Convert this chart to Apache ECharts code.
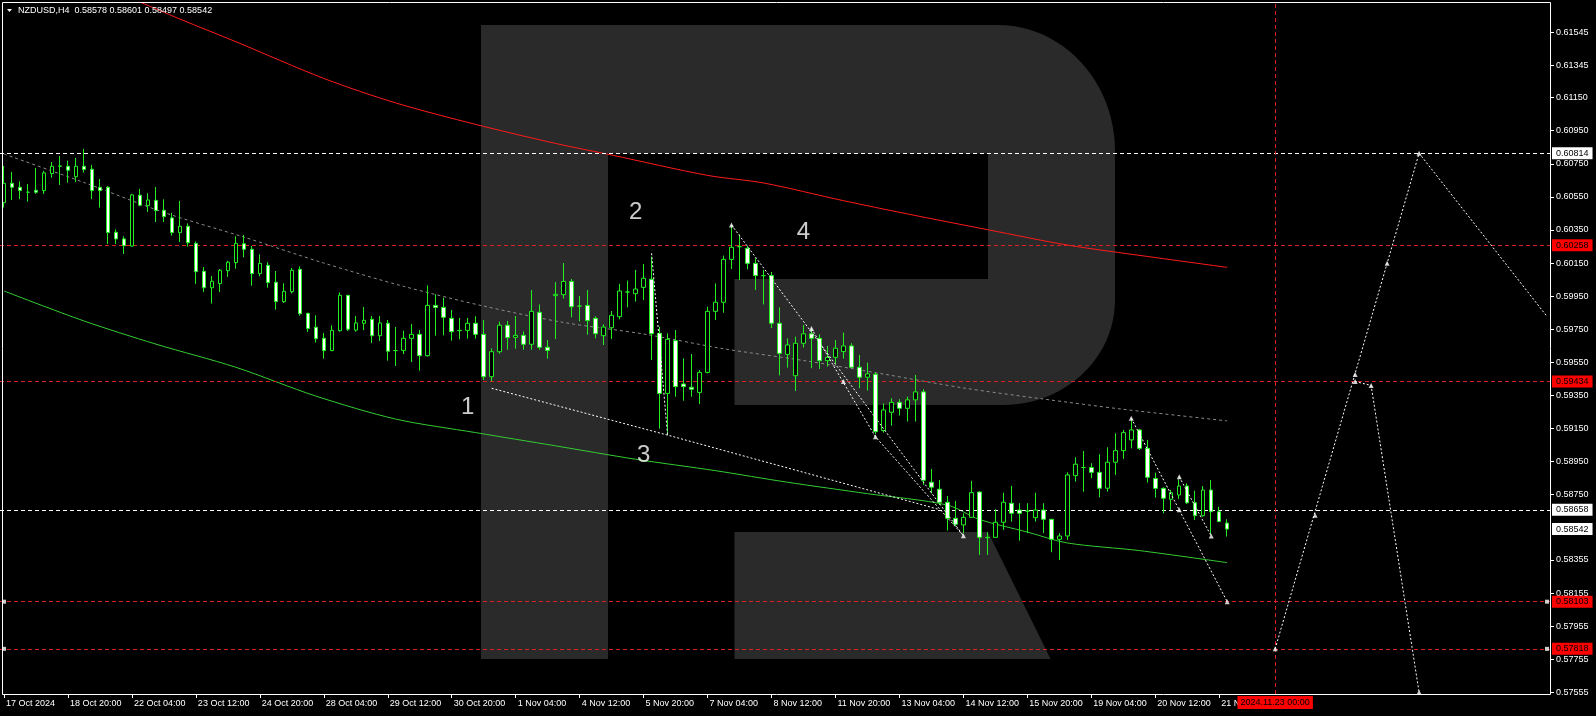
<!DOCTYPE html>
<html><head><meta charset="utf-8">
<script src="https://cdn.jsdelivr.net/npm/echarts@6/dist/echarts.min.js"></script>
<style>html,body{margin:0;padding:0;background:#000;}#c{width:1596px;height:716px;}</style>
</head><body><div id="c"></div>
<script>
// ---------- data ----------
const symbolTitle = 'NZDUSD,H4';
const headerOHLC = [0.58578, 0.58601, 0.58497, 0.58542];
const timeLabels = ['17 Oct 2024','18 Oct 20:00','22 Oct 04:00','23 Oct 12:00','24 Oct 20:00','28 Oct 04:00','29 Oct 12:00','30 Oct 20:00','1 Nov 04:00','4 Nov 12:00','5 Nov 20:00','7 Nov 04:00','8 Nov 12:00','11 Nov 20:00','13 Nov 04:00','14 Nov 12:00','15 Nov 20:00','19 Nov 04:00','20 Nov 12:00','21 Nov 20:00'];
const labelEvery = 8;
const futureBars = 40;
const priceTicks = [0.61545,0.61345,0.61150,0.60950,0.60750,0.60550,0.60350,0.60150,0.59950,0.59750,0.59550,0.59350,0.59150,0.58950,0.58750,0.58355,0.58155,0.57955,0.57755,0.57555];
const yMin = 0.57545, yMax = 0.61728;
// [open, close, low, high]
const candles = [
[0.60515,0.60632,0.60485,0.60737],[0.60632,0.60608,0.60531,0.60701],[0.60608,0.60588,0.60537,0.60644],[0.60578,0.60578,0.60521,0.60628],
[0.60590,0.60578,0.60568,0.60725],[0.60588,0.60695,0.60568,0.60707],[0.60691,0.60735,0.60666,0.60761],[0.60735,0.60737,0.60622,0.60797],
[0.60735,0.60711,0.60636,0.60769],[0.60672,0.60735,0.60640,0.60785],[0.60735,0.60715,0.60697,0.60840],[0.60717,0.60588,0.60537,0.60743],
[0.60608,0.60588,0.60485,0.60658],[0.60608,0.60334,0.60265,0.60616],[0.60336,0.60296,0.60265,0.60354],[0.60296,0.60255,0.60205,0.60312],
[0.60253,0.60562,0.60249,0.60568],[0.60560,0.60499,0.60493,0.60598],[0.60497,0.60531,0.60459,0.60572],[0.60529,0.60467,0.60398,0.60610],
[0.60469,0.60431,0.60398,0.60535],[0.60423,0.60334,0.60316,0.60453],[0.60334,0.60372,0.60277,0.60525],[0.60372,0.60273,0.60249,0.60390],
[0.60269,0.60098,0.60024,0.60281],[0.60100,0.60001,0.59975,0.60126],[0.60001,0.60040,0.59905,0.60072],[0.60026,0.60106,0.59975,0.60114],
[0.60104,0.60155,0.60066,0.60163],[0.60153,0.60269,0.60116,0.60312],[0.60267,0.60233,0.60185,0.60320],[0.60233,0.60086,0.60013,0.60253],
[0.60086,0.60148,0.60070,0.60203],[0.60136,0.60032,0.60001,0.60155],[0.60034,0.59917,0.59868,0.60102],[0.59917,0.59979,0.59909,0.60028],
[0.59977,0.60106,0.59967,0.60120],[0.60112,0.59844,0.59832,0.60130],[0.59846,0.59754,0.59733,0.59850],[0.59762,0.59693,0.59669,0.59834],
[0.59695,0.59621,0.59572,0.59727],[0.59621,0.59743,0.59617,0.59774],[0.59741,0.59955,0.59735,0.59973],[0.59955,0.59750,0.59739,0.59957],
[0.59745,0.59788,0.59735,0.59830],[0.59786,0.59804,0.59745,0.59885],[0.59810,0.59711,0.59667,0.59830],[0.59711,0.59788,0.59679,0.59830],
[0.59786,0.59617,0.59560,0.59806],[0.59621,0.59621,0.59528,0.59764],
[0.59622,0.59695,0.59600,0.59741],[0.59695,0.59719,0.59552,0.59782],[0.59719,0.59590,0.59499,0.59745],[0.59590,0.59894,0.59584,0.60015],
[0.59894,0.59882,0.59711,0.59961],[0.59882,0.59822,0.59713,0.59941],[0.59816,0.59735,0.59681,0.59866],[0.59741,0.59743,0.59689,0.59818],
[0.59743,0.59786,0.59693,0.59818],[0.59786,0.59719,0.59693,0.59828],[0.59719,0.59463,0.59443,0.59806],[0.59463,0.59614,0.59435,0.59634],
[0.59614,0.59774,0.59602,0.59796],[0.59774,0.59699,0.59626,0.59800],[0.59701,0.59713,0.59632,0.59830],[0.59713,0.59659,0.59626,0.59737],
[0.59659,0.59858,0.59626,0.59987],[0.59852,0.59641,0.59626,0.59900],[0.59641,0.59622,0.59572,0.59685],[0.59953,0.59961,0.59691,0.60035],
[0.59959,0.60039,0.59935,0.60150],[0.60039,0.59886,0.59822,0.60054],[0.59890,0.59890,0.59798,0.59951],[0.59894,0.59802,0.59717,0.59987],
[0.59816,0.59723,0.59695,0.59828],[0.59711,0.59763,0.59655,0.59780],[0.59759,0.59834,0.59691,0.59860],[0.59826,0.59981,0.59810,0.60025],
[0.59975,0.59975,0.59882,0.60044],[0.59965,0.59993,0.59917,0.60108],[0.60003,0.60058,0.59927,0.60144],[0.60052,0.59723,0.59564,0.60189],
[0.59725,0.59362,0.59149,0.59765],[0.59362,0.59689,0.59110,0.59725],[0.59681,0.59403,0.59342,0.59745],[0.59419,0.59403,0.59318,0.59574],
[0.59399,0.59387,0.59342,0.59600],[0.59368,0.59489,0.59298,0.59503],[0.59489,0.59858,0.59483,0.59886],[0.59858,0.59913,0.59806,0.60027],
[0.59913,0.60172,0.59850,0.60195],[0.60172,0.60245,0.60114,0.60380],[0.60249,0.60249,0.60048,0.60324],[0.60239,0.60148,0.60112,0.60253],
[0.60148,0.60074,0.59987,0.60179],[0.60074,0.60074,0.59900,0.60108],[0.60074,0.59786,0.59757,0.60096],[0.59786,0.59604,0.59471,0.59882],
[0.59598,0.59655,0.59518,0.59695],[0.59469,0.59665,0.59377,0.59705],
[0.59665,0.59722,0.59639,0.59776],[0.59722,0.59695,0.59514,0.59750],[0.59695,0.59560,0.59510,0.59719],[0.59560,0.59580,0.59524,0.59649],
[0.59580,0.59635,0.59540,0.59685],[0.59615,0.59649,0.59572,0.59730],[0.59649,0.59520,0.59514,0.59665],[0.59520,0.59460,0.59393,0.59595],
[0.59460,0.59480,0.59379,0.59548],[0.59478,0.59131,0.59117,0.59488],[0.59137,0.59262,0.59125,0.59302],[0.59248,0.59308,0.59167,0.59333],
[0.59308,0.59272,0.59228,0.59327],[0.59272,0.59323,0.59192,0.59343],[0.59323,0.59371,0.59192,0.59474],[0.59371,0.58837,0.58809,0.59387],
[0.58825,0.58795,0.58758,0.58905],[0.58783,0.58704,0.58688,0.58839],[0.58704,0.58607,0.58533,0.58742],[0.58607,0.58571,0.58561,0.58712],
[0.58567,0.58613,0.58517,0.58637],[0.58613,0.58762,0.58613,0.58833],[0.58766,0.58492,0.58386,0.58770],[0.58490,0.58492,0.58386,0.58523],
[0.58492,0.58583,0.58492,0.58662],[0.58583,0.58704,0.58537,0.58762],[0.58698,0.58637,0.58587,0.58803],[0.58657,0.58637,0.58472,0.58698],
[0.58650,0.58650,0.58517,0.58698],[0.58611,0.58657,0.58587,0.58762],[0.58657,0.58601,0.58517,0.58698],[0.58601,0.58480,0.58402,0.58601],
[0.58480,0.58500,0.58355,0.58517],[0.58500,0.58869,0.58476,0.58885],[0.58865,0.58934,0.58829,0.58976],[0.58914,0.58914,0.58768,0.59014],
[0.58914,0.58885,0.58849,0.58940],[0.58885,0.58789,0.58734,0.58994],[0.58789,0.58946,0.58768,0.59036],[0.58946,0.59016,0.58869,0.59121],
[0.59016,0.59125,0.58966,0.59141],[0.59081,0.59141,0.59030,0.59212],[0.59141,0.59030,0.59020,0.59147],[0.59030,0.58855,0.58823,0.59081],
[0.58848,0.58788,0.58732,0.58883],[0.58788,0.58728,0.58637,0.58794],[0.58722,0.58762,0.58657,0.58778],[0.58748,0.58802,0.58724,0.58842],
[0.58802,0.58701,0.58693,0.58818],[0.58701,0.58623,0.58597,0.58774],[0.58623,0.58778,0.58617,0.58802],[0.58778,0.58647,0.58510,0.58838],
[0.58647,0.58587,0.58587,0.58677],[0.58578,0.58542,0.58497,0.58601]
];
// moving averages read at selected bars: [barIndex, price]
const redMA = [[17,0.61728],[22,0.61625],[29,0.61488],[40,0.61266],[49,0.61118],[59,0.60988],[69,0.60873],[76,0.60803],[88,0.60680],[95,0.60634],[105,0.60527],[113,0.60447],[123,0.60352],[133,0.60259],[143,0.60190],[153,0.60124]];
const greenMA = [[0,0.59981],[10,0.59800],[19,0.59660],[29,0.59520],[39,0.59346],[49,0.59207],[59,0.59125],[69,0.59045],[79,0.58964],[89,0.58895],[98,0.58825],[108,0.58756],[118,0.58687],[122,0.58600],[128,0.58524],[133,0.58458],[142,0.58412],[153,0.58339]];
const greyMA = [[0,0.60809],[10,0.60637],[20,0.60456],[30,0.60307],[40,0.60150],[50,0.60009],[60,0.59890],[70,0.59791],[80,0.59721],[90,0.59632],[100,0.59561],[110,0.59479],[120,0.59395],[130,0.59328],[140,0.59266],[153,0.59196]];
// forecast / wave lines
const fcPaths = [
  [[61,0.59393],[83,0.59110],[117,0.58660]],
  [[81,0.60209],[83,0.59110]],
  [[91,0.60380],[120,0.58502]],
  [[101,0.59755],[109,0.59100],[120,0.58502]],
  [[141,0.59212],[153,0.58103]],
  [[147,0.58858],[151,0.58500]],
  [[159,0.57818],[177,0.60814],[193,0.59827]],
  [[169,0.59434],[171,0.59410],[177,0.57555]]
];
const fcMarkers = [[91,0.60380],[101,0.59755],[105,0.59434],[109,0.59100],[120,0.58502],[141,0.59212],[147,0.58858],[147,0.58658],[151,0.58500],[153,0.58103],[159,0.57818],[164,0.58626],[169,0.59476],[169,0.59434],[171,0.59410],[173,0.60149],[177,0.60814],[177,0.57555]];
const anchorPoints = [[0,0.58103],[0,0.57818],[193,0.58103],[193,0.57818]];
const waveNames = ['1','2','3','4'];
const waveBars = [58,79,80,100];
const wavePrices = [0.59277,0.60454,0.58987,0.60338];
const levelsWhite = [0.60814, 0.58658];
const levelsRed = [0.60258, 0.59434, 0.58103, 0.57818];
const lastPrice = 0.58542;
const forecastBar = 159;
const forecastDate = '2024.11.23 00:00';

// ---------- chart ----------
const FONT = "'Liberation Sans', Arial, sans-serif";
const GREEN = '#22ee22';
const RED = '#dd2020';
const WM = '#2a2a2a';
const categories = Array.from({length: candles.length + futureBars}, (_, i) => String(i));
const isLabelSlot = (i) => i % labelEvery === 0 && i / labelEvery < timeLabels.length;

function quarter(cx, cy, rx, ry, a0, a1, n) {
  const pts = [];
  for (let k = 0; k <= n; k++) {
    const a = a0 + (a1 - a0) * k / n;
    pts.push([cx + rx * Math.cos(a), cy + ry * Math.sin(a)]);
  }
  return pts;
}
const bowl = [[607,25],[998,25]]
  .concat(quarter(998,151,117,126,-Math.PI/2,0,24))
  .concat([[1115,300]])
  .concat(quarter(1003,300,112,105,0,Math.PI/2,24))
  .concat([[734.5,405],[734.5,279],[988,279],[988,153.6],[607,153.6]]);

const boxLabel = (txt, bg) => ({
  show: true, position: 'end', distance: 1, formatter: txt,
  backgroundColor: bg, color: '#000', fontSize: 9, fontFamily: FONT,
  lineHeight: 10, padding: [1, 4, 1, 4]
});
const markData = [];
levelsWhite.forEach(v => markData.push({yAxis: v, lineStyle: {color: '#ffffff', type: [4,3], width: 1}, label: boxLabel(v.toFixed(5), '#ffffff')}));
levelsRed.forEach(v => markData.push({yAxis: v, lineStyle: {color: RED, type: [4,3], width: 1}, label: boxLabel(v.toFixed(5), '#ff0000')}));
markData.push({yAxis: lastPrice, lineStyle: {color: 'rgba(0,0,0,0)', width: 0}, label: boxLabel(lastPrice.toFixed(5), '#ffffff')});
markData.push({xAxis: forecastBar, lineStyle: {color: RED, type: [4,3], width: 1},
  label: {show: true, position: 'start', distance: 2, formatter: forecastDate, backgroundColor: '#ff0000', color: '#000', fontSize: 9, fontFamily: FONT, lineHeight: 11, padding: [1, 3, 1, 3]}});

const series = [{
  type: 'candlestick', name: symbolTitle, data: candles, barWidth: 4, z: 5,
  itemStyle: {color: '#000000', color0: '#ffffff', borderColor: GREEN, borderColor0: GREEN, borderWidth: 1}
}, {
  type: 'line', data: redMA, symbol: 'none', smooth: 0.3, lineStyle: {color: '#ff1a1a', width: 1}, z: 3, silent: true
}, {
  type: 'line', data: greenMA, symbol: 'none', smooth: 0.3, lineStyle: {color: '#33cc33', width: 1}, z: 3, silent: true
}, {
  type: 'line', data: greyMA, symbol: 'none', smooth: 0.3, lineStyle: {color: '#8a8a8a', width: 1, type: [3,3]}, z: 3, silent: true,
  markLine: {symbol: ['none','none'], silent: true, animation: false, precision: 5, data: markData}
}];
fcPaths.forEach(p => series.push({type: 'line', data: p, symbol: 'none', z: 6, silent: true,
  lineStyle: {color: '#ffffff', width: 1, type: [2,2]}}));
series.push({type: 'scatter', data: fcMarkers, symbol: 'triangle', symbolSize: 5, z: 7, silent: true, itemStyle: {color: '#ffffff'}});
series.push({type: 'scatter', data: anchorPoints, symbol: 'rect', symbolSize: 4, z: 7, silent: true, itemStyle: {color: '#ffffff'}});
series.push({type: 'scatter', silent: true, z: 8, symbolSize: 1, itemStyle: {color: 'transparent'},
  data: waveNames.map((n, i) => ({name: n, value: [waveBars[i], wavePrices[i]]})),
  label: {show: true, position: 'inside', formatter: '{b}', color: '#ffffff', fontSize: 24, fontFamily: FONT}});

const option = {
  backgroundColor: '#000000',
  animation: false,
  grid: {left: -1, right: 45, top: 2, bottom: 22, containLabel: false},
  xAxis: {
    type: 'category', data: categories, boundaryGap: true,
    axisLine: {show: false},
    axisTick: {show: true, alignWithLabel: true, length: 4, interval: (i) => isLabelSlot(i), lineStyle: {color: '#ffffff'}},
    axisLabel: {interval: (i) => isLabelSlot(i), formatter: (v, i) => timeLabels[i / labelEvery] || '',
      align: 'left', padding: [0, 0, 0, 2], margin: 5, color: '#ffffff', fontSize: 9, fontFamily: FONT},
    splitLine: {show: false}
  },
  yAxis: {
    type: 'value', position: 'right', min: yMin, max: yMax, scale: true,
    axisLine: {show: false},
    axisTick: {show: true, length: 3, customValues: priceTicks, lineStyle: {color: '#ffffff'}},
    axisLabel: {customValues: priceTicks, formatter: (v) => v.toFixed(5), margin: 5, color: '#ffffff', fontSize: 9, fontFamily: FONT},
    splitLine: {show: false}
  },
  graphic: [
    {type: 'rect', z: -10, silent: true, shape: {x: 481, y: 25, width: 127, height: 634}, style: {fill: WM}},
    {type: 'polygon', z: -10, silent: true, shape: {points: bowl}, style: {fill: WM}},
    {type: 'polygon', z: -10, silent: true, shape: {points: [[734.5,532],[988,532],[1050.6,659],[734.5,659]]}, style: {fill: WM}},
    {type: 'rect', z: 50, silent: true, shape: {x: 2.5, y: 2.5, width: 1548, height: 692}, style: {fill: 'none', stroke: '#ffffff', lineWidth: 1}},
    {type: 'polygon', z: 50, silent: true, shape: {points: [[7,9],[12,9],[9.5,12]]}, style: {fill: '#ffffff'}},
    {type: 'text', z: 50, silent: true, x: 18, y: 6, style: {text: symbolTitle + '  ' + headerOHLC.map(v => v.toFixed(5)).join(' '), fill: '#ffffff', fontSize: 9, fontFamily: FONT}}
  ],
  series: series
};
const chart = echarts.init(document.getElementById('c'));
chart.setOption(option);
</script>
</body></html>
